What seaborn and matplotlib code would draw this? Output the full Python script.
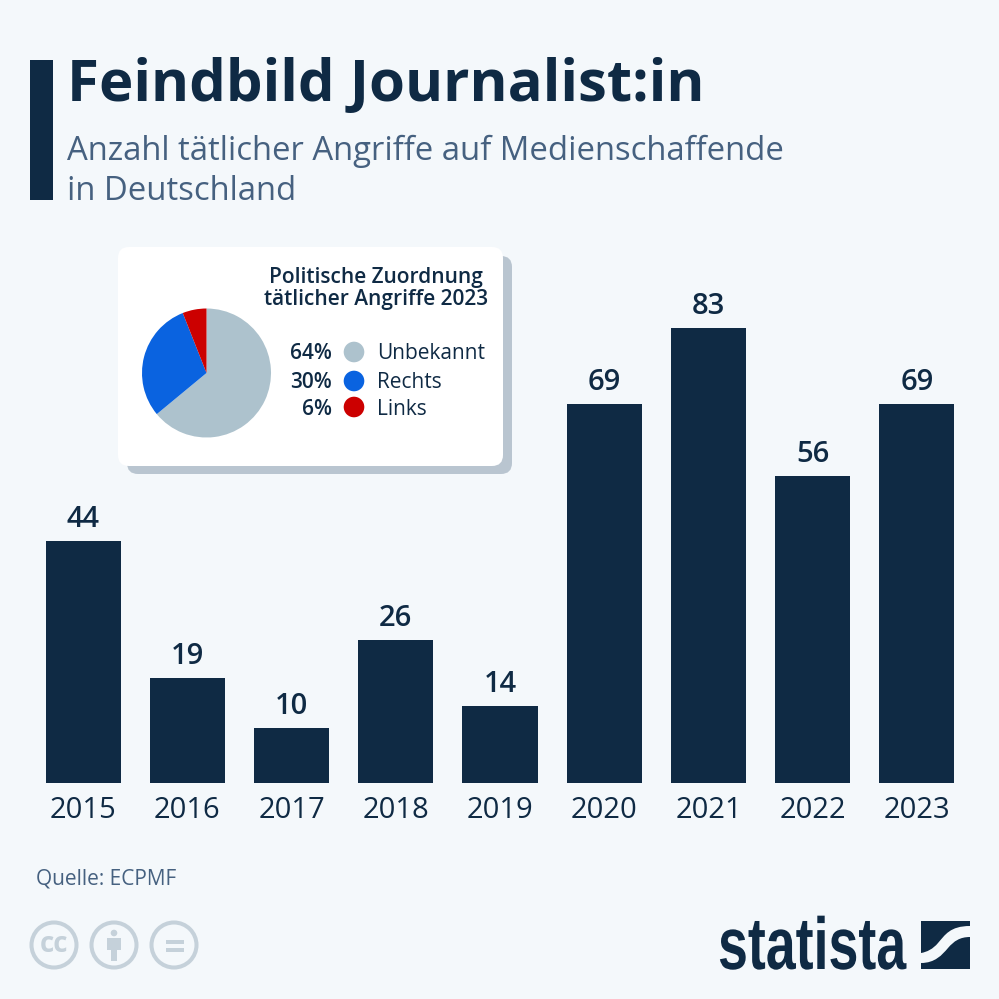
import matplotlib
matplotlib.use("Agg")
import matplotlib.pyplot as plt
import seaborn as sns
import pandas as pd
from matplotlib.patches import FancyBboxPatch, Rectangle, Circle, PathPatch
from matplotlib.path import Path
from matplotlib.patheffects import AbstractPathEffect
from matplotlib.transforms import Affine2D

years = ["2015", "2016", "2017", "2018", "2019", "2020", "2021", "2022", "2023"]
attacks = [44, 19, 10, 26, 14, 69, 83, 56, 69]

pie_labels = ["Unbekannt", "Rechts", "Links"]
pie_shares = [64, 30, 6]
pie_colors = ["#adc2cd", "#0a63e0", "#cc0000"]

NAVY = "#0f2a44"
SLATE = "#466180"
BG = "#f4f8fb"
ICON = "#c5d1da"


class Squeeze(AbstractPathEffect):
    # narrows the logo text around its left edge, no condensed font is installed
    def __init__(self, x0, factor):
        super().__init__()
        self.x0 = x0
        self.factor = factor

    def draw_path(self, renderer, gc, tpath, affine, rgbFace=None):
        squeeze = Affine2D().translate(-self.x0, 0).scale(self.factor, 1).translate(self.x0, 0)
        renderer.draw_path(gc, tpath, affine + squeeze, rgbFace)


sns.set_theme(style="white")
plt.rcParams["font.family"] = ["Open Sans", "DejaVu Sans"]

fig = plt.figure(figsize=(9.99, 9.99), dpi=100, facecolor=BG)

# overlay in pixel coordinates for the text and decoration
ov = fig.add_axes([0, 0, 1, 1], zorder=0)
ov.set_xlim(0, 999)
ov.set_ylim(999, 0)
ov.axis("off")

ov.add_patch(Rectangle((30, 60), 23, 140, color=NAVY, lw=0))
ov.text(67, 86, "Feindbild Journalist:in", fontsize=41.9, fontweight="bold", color=NAVY, va="center")
ov.text(67, 151, "Anzahl tätlicher Angriffe auf Medienschaffende", fontsize=23.65, color=SLATE, va="center")
ov.text(67, 191, "in Deutschland", fontsize=23.65, color=SLATE, va="center")

# bars
ax = fig.add_axes([31 / 999, 1 - 782.5 / 999, 938 / 999, 542.5 / 999], zorder=1)
ax.patch.set_alpha(0)
df = pd.DataFrame({"year": years, "attacks": attacks})
sns.barplot(data=df, x="year", y="attacks", color=NAVY, saturation=1, width=0.72, linewidth=0, ax=ax)
ax.set_xlim(-0.5, 8.5)
ax.set_ylim(0, 99)
ax.set_xlabel("")
ax.set_ylabel("")
ax.set_yticks([])
sns.despine(ax=ax, left=True, bottom=True)
ax.tick_params(axis="x", length=0, pad=10, labelsize=21, labelcolor=NAVY)
for cont in ax.containers:
    ax.bar_label(cont, padding=5, fontsize=21, fontweight="semibold", color=NAVY)

# inset card
top = fig.add_axes([0, 0, 1, 1], zorder=2)
top.set_xlim(0, 999)
top.set_ylim(999, 0)
top.axis("off")
top.add_patch(FancyBboxPatch((127, 256), 385, 218, boxstyle="round,pad=0,rounding_size=11", lw=0, fc="#b9c5d0"))
top.add_patch(FancyBboxPatch((118, 247), 385, 219, boxstyle="round,pad=0,rounding_size=11", lw=0, fc="white"))
top.text(376, 283, "Politische Zuordnung", fontsize=15, fontweight="semibold", color=NAVY, ha="center", va="baseline")
top.text(376, 305.5, "tätlicher Angriffe 2023", fontsize=15, fontweight="semibold", color=NAVY, ha="center", va="baseline")
for label, share, col, y, base in zip(pie_labels, pie_shares, pie_colors, [352, 381, 407], [359, 388, 415]):
    top.text(332, base, f"{share}%", fontsize=15, fontweight="semibold", color=NAVY, ha="right", va="baseline")
    top.add_patch(Circle((354, y), 10.3, fc=col, lw=0))
    top.text(377, base, label, fontsize=15, color=NAVY, va="baseline")

# source
top.text(36, 879, "Quelle: ECPMF", fontsize=15, color=SLATE, va="center")

# licence icons
for cx in (54, 114, 174):
    top.add_patch(Circle((cx, 945), 22.5, fc="none", ec=ICON, lw=2.9))
top.text(54, 944, "cc", fontsize=20, fontweight="bold", color=ICON, ha="center", va="center")
top.add_patch(Circle((114, 933), 3.3, fc=ICON, lw=0))
top.add_patch(Rectangle((107, 938), 14, 12, fc=ICON, lw=0))
top.add_patch(Rectangle((111, 948), 6, 13, fc=ICON, lw=0))
top.add_patch(Rectangle((166, 940), 18, 4, fc=ICON, lw=0))
top.add_patch(Rectangle((166, 947.5), 18, 4.5, fc=ICON, lw=0))

# statista logo
top.text(718, 969, "statista", fontsize=53, fontweight="bold", color=NAVY, va="baseline",
         family=["Liberation Sans", "DejaVu Sans"], path_effects=[Squeeze(718, 0.73)])
upper = Path([(921, 921), (970, 921), (970, 926), (950, 926), (945, 935), (938, 943),
              (933, 949), (927, 952), (921, 953), (921, 921)],
             [Path.MOVETO, Path.LINETO, Path.LINETO, Path.CURVE4, Path.CURVE4, Path.CURVE4,
              Path.CURVE4, Path.CURVE4, Path.CURVE4, Path.CLOSEPOLY])
lower = Path([(970, 937), (970, 969), (921, 969), (921, 963), (935, 963), (942, 955),
              (948, 948), (954, 941), (960, 937), (970, 937)],
             [Path.MOVETO, Path.LINETO, Path.LINETO, Path.LINETO, Path.CURVE4, Path.CURVE4,
              Path.CURVE4, Path.CURVE4, Path.CURVE4, Path.CLOSEPOLY])
top.add_patch(PathPatch(upper, fc=NAVY, lw=0))
top.add_patch(PathPatch(lower, fc=NAVY, lw=0))

# pie
pie_ax = fig.add_axes([(206.5 - 64.5) / 999, 1 - (373 + 64.5) / 999, 129 / 999, 129 / 999], zorder=3)
pie_ax.pie(pie_shares, colors=pie_colors, startangle=90, counterclock=False, radius=1,
           wedgeprops={"linewidth": 0})
pie_ax.set_xlim(-1, 1)
pie_ax.set_ylim(-1, 1)

fig.savefig("out.png", dpi=100, facecolor=BG)
